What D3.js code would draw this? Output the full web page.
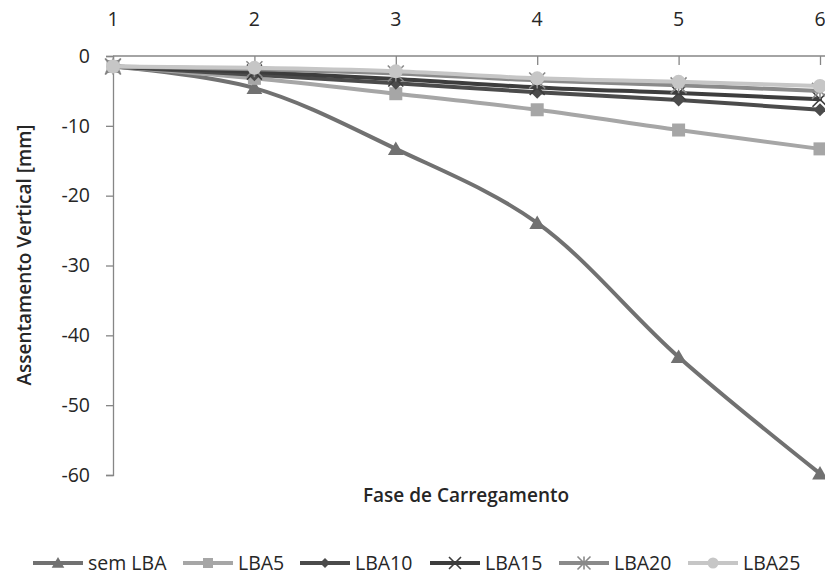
<!DOCTYPE html>
<html>
<head>
<meta charset="utf-8">
<script src="https://cdn.jsdelivr.net/npm/d3@7"></script>
<style>
  html, body { margin: 0; padding: 0; background: #fff; }
  svg { display: block; font-family: "Open Sans", "Noto Sans", sans-serif; }
</style>
</head>
<body>
<svg id="chart" width="825" height="579"></svg>
<script>
// Loading phases (x) and vertical settlement in mm for each configuration
const phases = [1, 2, 3, 4, 5, 6];
const semLBA = [-1.5, -4.6, -13.3, -23.9, -43.1, -59.8];
const lba5   = [-1.5, -3.2, -5.4, -7.7, -10.6, -13.3];
const lba10  = [-1.5, -2.7, -3.9, -5.2, -6.3, -7.7];
const lba15  = [-1.5, -2.3, -3.3, -4.5, -5.3, -6.2];
const lba20  = [-1.5, -1.9, -2.5, -3.5, -4.2, -5.0];
const lba25  = [-1.5, -1.7, -2.2, -3.2, -3.7, -4.3];
const seriesNames = ["sem LBA", "LBA5", "LBA10", "LBA15", "LBA20", "LBA25"];
const yTicks = [0, -10, -20, -30, -40, -50, -60];

const seriesValues = [semLBA, lba5, lba10, lba15, lba20, lba25];
const colors = ["#717171", "#a6a6a6", "#4b4b4b", "#3d3d3d", "#8a8a8a", "#c6c6c6"];
const markers = ["triangle", "square", "diamond", "x", "asterisk", "circle"];

const svg = d3.select("#chart");
const plotLeft = 113, plotRight = 820, plotTop = 56, plotBottom = 475;

const x = d3.scalePoint().domain(phases).range([plotLeft, plotRight]);
const y = d3.scaleLinear().domain([-60, 0]).range([plotBottom, plotTop]);

const axisColor = "#868686";
const textColor = "#262626";

// Top category axis (crosses at y = 0), ticks pointing into the plot
const xAxis = svg.append("g").attr("transform", `translate(0,${y(0)})`)
  .call(d3.axisTop(x).tickSize(-9).tickPadding(0));
xAxis.select(".domain").remove();
xAxis.append("line").attr("x1", plotLeft).attr("x2", 825).attr("y1", 0).attr("y2", 0)
  .attr("stroke", axisColor).attr("stroke-width", 1.3);
xAxis.selectAll(".tick line").attr("stroke", axisColor).attr("stroke-width", 1.3);
xAxis.selectAll(".tick text").remove();
// Category labels above the plot
svg.append("g").selectAll("text").data(phases).join("text")
  .attr("x", d => x(d)).attr("y", 26)
  .attr("text-anchor", "middle")
  .attr("font-size", 19.5).attr("fill", textColor)
  .text(d => d);

// Left value axis
const yAxis = svg.append("g").attr("transform", `translate(${plotLeft},0)`)
  .call(d3.axisLeft(y).tickValues(yTicks).tickFormat(d => String(d)).tickSize(7).tickPadding(16));
yAxis.select(".domain").attr("stroke", axisColor).attr("stroke-width", 1.3);
yAxis.selectAll(".tick line").attr("stroke", axisColor).attr("stroke-width", 1.3);
yAxis.selectAll(".tick text").attr("font-size", 19.5).attr("fill", textColor)
  .attr("font-family", "'Open Sans', sans-serif");

// Axis titles
svg.append("text")
  .attr("transform", `translate(31,255) rotate(-90)`)
  .attr("text-anchor", "middle").attr("font-size", 19).attr("font-weight", 600)
  .attr("fill", textColor).text("Assentamento Vertical [mm]");
svg.append("text")
  .attr("x", 466).attr("y", 502)
  .attr("text-anchor", "middle").attr("font-size", 19).attr("font-weight", 600)
  .attr("fill", textColor).text("Fase de Carregamento");

// Marker drawing helper
function drawMarker(g, type, cx, cy, color, s) {
  const h = s / 2;
  if (type === "triangle") {
    g.append("path").attr("d", `M${cx},${cy - h}L${cx + h * 1.05},${cy + h * 0.8}L${cx - h * 1.05},${cy + h * 0.8}Z`)
      .attr("fill", color);
  } else if (type === "square") {
    g.append("rect").attr("x", cx - h).attr("y", cy - h).attr("width", s).attr("height", s)
      .attr("fill", color);
  } else if (type === "diamond") {
    g.append("path").attr("d", `M${cx},${cy - h}L${cx + h},${cy}L${cx},${cy + h}L${cx - h},${cy}Z`)
      .attr("fill", color);
  } else if (type === "x") {
    g.append("path").attr("d", `M${cx - h},${cy - h}L${cx + h},${cy + h}M${cx + h},${cy - h}L${cx - h},${cy + h}`)
      .attr("stroke", color).attr("stroke-width", 1.6).attr("fill", "none");
  } else if (type === "asterisk") {
    g.append("path").attr("d", `M${cx - h},${cy - h}L${cx + h},${cy + h}M${cx + h},${cy - h}L${cx - h},${cy + h}M${cx},${cy - h}L${cx},${cy + h}`)
      .attr("stroke", color).attr("stroke-width", 1.6).attr("fill", "none");
  } else if (type === "circle") {
    g.append("circle").attr("cx", cx).attr("cy", cy).attr("r", h).attr("fill", color);
  }
}

// Series lines (smoothed) with markers
const line = d3.line()
  .x((d, i) => x(phases[i]))
  .y(d => y(d))
  .curve(d3.curveCatmullRom.alpha(0.5));

const markerSize = [15, 13, 13, 15, 16, 14];

seriesValues.forEach((vals, k) => {
  const g = svg.append("g");
  g.append("path").datum(vals).attr("d", line)
    .attr("fill", "none").attr("stroke", colors[k]).attr("stroke-width", 4)
    .attr("stroke-linejoin", "round").attr("stroke-linecap", "round");
  vals.forEach((v, i) => drawMarker(g, markers[k], x(phases[i]), y(v), colors[k], markerSize[k]));
});

// Legend
const legendX = [33, 183, 300, 430, 559, 688];
const legendY = 563;
seriesNames.forEach((name, k) => {
  const g = svg.append("g");
  const x0 = legendX[k], x1 = x0 + 50;
  g.append("line").attr("x1", x0).attr("x2", x1).attr("y1", legendY).attr("y2", legendY)
    .attr("stroke", colors[k]).attr("stroke-width", 4);
  drawMarker(g, markers[k], (x0 + x1) / 2, legendY, colors[k], markerSize[k] - 3);
  g.append("text").attr("x", x1 + 5).attr("y", legendY + 7)
    .attr("font-size", 19.5).attr("fill", textColor).text(name);
});
</script>
</body>
</html>
